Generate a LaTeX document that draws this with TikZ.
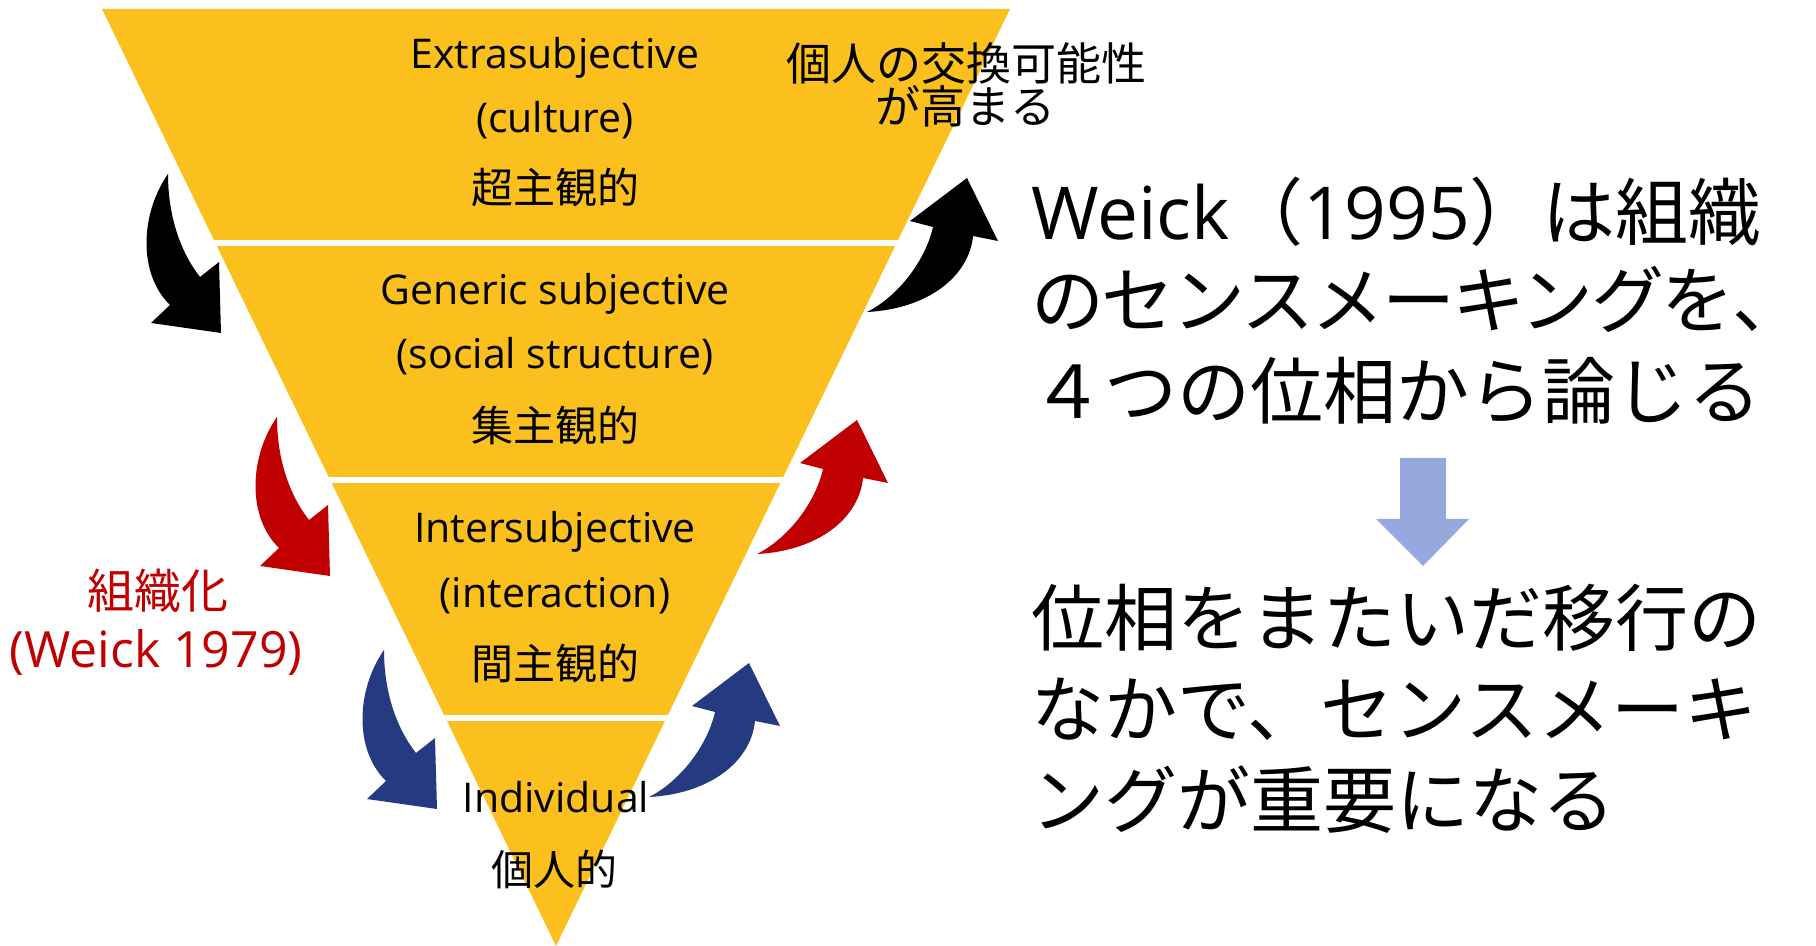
\documentclass[tikz,border=0pt]{standalone}
\usepackage{fontspec}
\setmainfont{Noto Sans CJK JP}
\newfontfamily\lat{Open Sans}
\definecolor{triY}{RGB}{251,192,30}
\definecolor{redA}{RGB}{192,0,0}
\definecolor{blueA}{RGB}{37,58,128}
\definecolor{lightA}{RGB}{150,168,222}
\tikzset{
  trilat/.style={font=\lat\fontsize{20.5}{24}\selectfont, inner sep=0pt, anchor=base},
  trijp/.style={font=\fontsize{21}{25}\selectfont, inner sep=0pt, anchor=center},
  smalljp/.style={font=\fontsize{22.5}{26}\selectfont, inner sep=0pt, anchor=center},
  bigtext/.style={font=\fontsize{36.5}{44}\selectfont, inner sep=0pt, anchor=base west},
  redtext/.style={text=redA, inner sep=0pt},
  leftarr/.pic={
    \path[pic actions] (0,0) .. controls (-28,40) and (-30,100) .. (2,131)
      -- (-17,149) -- (53,159) -- (51,88) -- (32,103)
      .. controls (14,80) and (0,45) .. (0,0) -- cycle;
  },
  rightarr/.pic={
    \path[pic actions] (0,0) .. controls (30,-15) and (58,-50) .. (66,-85)
      -- (43,-91) -- (100,-134) -- (131,-71) -- (106,-76)
      .. controls (102,-35) and (60,-3) .. (0,0) -- cycle;
  }
}
\begin{document}
\begin{tikzpicture}[x=0.5pt,y=-0.5pt]
\useasboundingbox (0,0) rectangle (1816,946);
% triangle
\fill[triY] (102,9) -- (1010,9) -- (556,946) -- cycle;
\begin{scope}
  \clip (102,9) -- (1010,9) -- (556,946) -- cycle;
  \draw[white, line width=3pt] (0,243) -- (1816,243);
  \draw[white, line width=3pt] (0,480) -- (1816,480);
  \draw[white, line width=3pt] (0,718) -- (1816,718);
\end{scope}
% curved arrows
\pic[fill=black] at (168,174) {leftarr};
\pic[fill=redA] at (277,417) {leftarr};
\pic[fill=blueA] at (384,650) {leftarr};
\pic[fill=black] at (867,312) {rightarr};
\pic[fill=redA] at (757,554) {rightarr};
\pic[fill=blueA] at (649,797) {rightarr};
% down arrow
\fill[lightA] (1400,458) -- (1446,458) -- (1446,519) -- (1469,519) -- (1423,566) -- (1376,519) -- (1400,519) -- cycle;
% triangle texts
\node[trilat] (t1a) at (555,69) {Extrasubjective};
\node[trilat] (t1b) at (555,133) {(culture)};
\node[trijp] (t1c) at (555,187) {超主観的};
\node[trilat] (t2a) at (555,305) {Generic subjective};
\node[trilat] (t2b) at (555,369) {(social structure)};
\node[trijp] (t2c) at (555,425) {集主観的};
\node[trilat] (t3a) at (555,543) {Intersubjective};
\node[trilat] (t3b) at (555,608) {(interaction)};
\node[trijp] (t3c) at (555,663) {間主観的};
\node[trilat] (t4a) at (556,812) {Individual};
\node[trijp] (t4b) at (554,869) {個人的};
% top right small text
\node[smalljp] (n1) at (966,63) {個人の交換可能性};
\node[smalljp] (n2) at (965,106) {が高まる};
% red label
\node[redtext, font=\fontsize{23.5}{27}\selectfont, anchor=center] (o1) at (158,591) {組織化};
\node[redtext, font=\lat\fontsize{25}{29}\selectfont, anchor=base] (o2) at (156,668) {(Weick 1979)};
% right text
\node[bigtext] (r1) at (1031,240) {{\lat Weick}（{\lat 1995}）は組織};
\node[bigtext] (r2) at (1031,328) {\addfontfeature{LetterSpace=-3.5}のセンスメーキングを、};
\node[bigtext] (r3) at (1031,419) {４つの位相から論じる};
\node[bigtext] (r4) at (1031,645) {位相をまたいだ移行の};
\node[bigtext] (r5) at (1031,736) {なかで、センスメーキ};
\node[bigtext] (r6) at (1031,827) {ングが重要になる};
\end{tikzpicture}
\end{document}
